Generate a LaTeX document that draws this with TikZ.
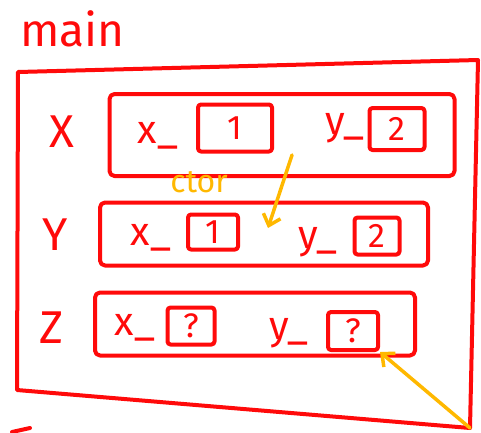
\documentclass[tikz,border=0pt]{standalone}
\usepackage{fontspec}
\setmainfont{Fira Sans}
\usetikzlibrary{arrows.meta}
\definecolor{pen}{HTML}{FF0A0A}
\definecolor{hl}{HTML}{FFB800}
\begin{document}
\begin{tikzpicture}[x=1pt,y=-1pt,
  stroke/.style={draw=pen,line width=4pt,line cap=round,line join=round},
  rowbox/.style={stroke,rounded corners=5pt,inner sep=0pt},
  valbox/.style={stroke,rounded corners=3pt,inner sep=0pt,text=pen,font=\fontsize{34}{34}\selectfont},
  fieldtxt/.style={text=pen,inner sep=0pt,font=\fontsize{40}{40}\selectfont},
  lbltxt/.style={text=pen,inner sep=0pt,font=\fontsize{46}{46}\selectfont},
  note/.style={text=hl,inner sep=0pt,font=\fontsize{32}{32}\selectfont},
  hlarrow/.style={draw=hl,line width=3.5pt,line cap=round,-{Straight Barb[length=10pt,width=18pt,line width=3.5pt]}}]
\useasboundingbox (0,0) rectangle (481,432);
% title
\node[lbltxt,anchor=base west] (title) at (20,46) {main};
% outer frame
\coordinate (otl) at (18,72);
\coordinate (otr) at (478,60);
\coordinate (obr) at (470,428);
\coordinate (obl) at (17,390);
\draw[stroke] (otl) -- (otr) -- (obr) -- (obl) -- cycle;
\coordinate (stubA) at (12,432);
\coordinate (stubB) at (30,428);
\draw[stroke] (stubA) -- (stubB);
% row labels
\node[lbltxt] (lx) at (62,132) {X};
\node[lbltxt] (ly) at (55,235) {Y};
\node[lbltxt] (lz) at (52,328) {Z};
% row boxes
\node[rowbox,minimum width=345pt,minimum height=82pt] (bx) at (282,135) {};
\node[rowbox,minimum width=328pt,minimum height=63pt] (by) at (264,234) {};
\node[rowbox,minimum width=320pt,minimum height=63pt] (bz) at (255,324) {};
% row X contents
\node[fieldtxt] (xx) at (158,136) {x\_};
\node[valbox,minimum width=74pt,minimum height=47pt] (xv1) at (235,128) {1};
\node[fieldtxt] (xy) at (345,128) {y\_};
\node[valbox,minimum width=55pt,minimum height=42pt] (xv2) at (397,129) {2};
% row Y contents
\node[fieldtxt] (yx) at (151,238) {x\_};
\node[valbox,minimum width=50pt,minimum height=35pt] (yv1) at (213,232) {1};
\node[fieldtxt] (yy) at (318,242) {y\_};
\node[valbox,minimum width=45pt,minimum height=37pt] (yv2) at (377,236) {2};
% row Z contents
\node[fieldtxt] (zx) at (135,328) {x\_};
\node[valbox,minimum width=47pt,minimum height=37pt] (zv1) at (191,326) {?};
\node[fieldtxt] (zy) at (289,333) {y\_};
\node[valbox,minimum width=50pt,minimum height=38pt] (zv2) at (353,331) {?};
% annotations
\node[note] (ctor) at (199,182) {ctor};
\coordinate (a1s) at (292,155);
\coordinate (a1e) at (268,228);
\draw[hlarrow] (a1s) -- (a1e);
\draw[hlarrow] (obr) -- (zv2.south east);
\end{tikzpicture}
\end{document}
